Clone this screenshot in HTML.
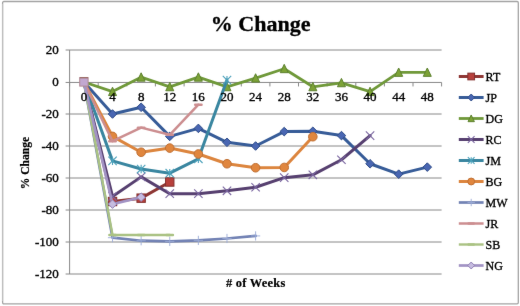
<!DOCTYPE html>
<html><head><meta charset="utf-8"><title>% Change</title>
<style>
html,body{margin:0;padding:0;background:#fff;width:520px;height:306px;overflow:hidden}
svg{display:block}
text{font-family:"Liberation Serif",serif}
</style></head><body>
<svg width="520" height="306" viewBox="0 0 520 306">
<defs><filter id="bl" x="0" y="0" width="520" height="306" filterUnits="userSpaceOnUse" color-interpolation-filters="sRGB"><feConvolveMatrix order="3" kernelMatrix="0.00276 0.04704 0.00276 0.04704 0.80077 0.04704 0.00276 0.04704 0.00276" edgeMode="duplicate" preserveAlpha="true"/></filter></defs>
<rect x="0" y="0" width="520" height="306" fill="#fff"/>
<g filter="url(#bl)">
<rect x="0" y="0" width="520" height="306" fill="#fff"/>
<rect x="2.6" y="1.5" width="515.7" height="302.3" rx="1.2" ry="1.2" fill="#fff" stroke="#a4a4a4" stroke-width="1.3"/>
<path d="M2.6 4V301" stroke="#c8c8c8" stroke-width="0.8" fill="none"/>

<path d="M65.6 50.00H441.6 M65.6 82.45H441.6 M65.6 114.00H441.6 M65.6 146.00H441.6 M65.6 178.00H441.6 M65.6 210.00H441.6 M65.6 242.00H441.6 M65.6 274.00H441.6" stroke="#888888" stroke-width="1" fill="none"/>
<path d="M69.6 50.0V274.0" stroke="#888888" stroke-width="1" fill="none"/>
<path d="M69.6 82.45v4 M98.2 82.45v4 M126.8 82.45v4 M155.4 82.45v4 M184.1 82.45v4 M212.7 82.45v4 M241.3 82.45v4 M269.9 82.45v4 M298.5 82.45v4 M327.1 82.45v4 M355.8 82.45v4 M384.4 82.45v4 M413.0 82.45v4 M441.6 82.45v4" stroke="#888888" stroke-width="1" fill="none"/>
<polyline points="83.91,82.00 112.52,201.52 141.14,198.16 169.75,182.00" fill="none" stroke="#8E3634" stroke-width="3.0" stroke-linejoin="round" stroke-linecap="round"/>
<rect x="108.32" y="197.32" width="8.40" height="8.40" fill="#B8403C" stroke="#82302E" stroke-width="1"/>
<rect x="136.94" y="193.96" width="8.40" height="8.40" fill="#B8403C" stroke="#82302E" stroke-width="1"/>
<rect x="165.55" y="177.80" width="8.40" height="8.40" fill="#B8403C" stroke="#82302E" stroke-width="1"/>
<polyline points="83.91,82.00 112.52,114.00 141.14,107.28 169.75,136.40 198.37,128.40 226.98,142.32 255.60,146.00 284.22,131.60 312.83,131.28 341.45,135.60 370.06,163.76 398.68,174.16 427.29,167.12" fill="none" stroke="#375C98" stroke-width="3.0" stroke-linejoin="round" stroke-linecap="round"/>
<path d="M112.52 109.70L116.82 114.00L112.52 118.30L108.22 114.00Z" fill="#4966B2" stroke="#2E4C88" stroke-width="1"/>
<path d="M141.14 102.98L145.44 107.28L141.14 111.58L136.84 107.28Z" fill="#4966B2" stroke="#2E4C88" stroke-width="1"/>
<path d="M169.75 132.10L174.05 136.40L169.75 140.70L165.45 136.40Z" fill="#4966B2" stroke="#2E4C88" stroke-width="1"/>
<path d="M198.37 124.10L202.67 128.40L198.37 132.70L194.07 128.40Z" fill="#4966B2" stroke="#2E4C88" stroke-width="1"/>
<path d="M226.98 138.02L231.28 142.32L226.98 146.62L222.68 142.32Z" fill="#4966B2" stroke="#2E4C88" stroke-width="1"/>
<path d="M255.60 141.70L259.90 146.00L255.60 150.30L251.30 146.00Z" fill="#4966B2" stroke="#2E4C88" stroke-width="1"/>
<path d="M284.22 127.30L288.52 131.60L284.22 135.90L279.92 131.60Z" fill="#4966B2" stroke="#2E4C88" stroke-width="1"/>
<path d="M312.83 126.98L317.13 131.28L312.83 135.58L308.53 131.28Z" fill="#4966B2" stroke="#2E4C88" stroke-width="1"/>
<path d="M341.45 131.30L345.75 135.60L341.45 139.90L337.15 135.60Z" fill="#4966B2" stroke="#2E4C88" stroke-width="1"/>
<path d="M370.06 159.46L374.36 163.76L370.06 168.06L365.76 163.76Z" fill="#4966B2" stroke="#2E4C88" stroke-width="1"/>
<path d="M398.68 169.86L402.98 174.16L398.68 178.46L394.38 174.16Z" fill="#4966B2" stroke="#2E4C88" stroke-width="1"/>
<path d="M427.29 162.82L431.59 167.12L427.29 171.42L422.99 167.12Z" fill="#4966B2" stroke="#2E4C88" stroke-width="1"/>
<polyline points="83.91,82.00 112.52,91.60 141.14,77.20 169.75,86.80 198.37,77.20 226.98,86.80 255.60,78.16 284.22,68.72 312.83,86.80 341.45,82.80 370.06,91.60 398.68,72.40 427.29,72.40" fill="none" stroke="#70993A" stroke-width="2.8" stroke-linejoin="round" stroke-linecap="round"/>
<path d="M112.52 87.20L116.52 95.56L108.52 95.56Z" fill="#7CA236" stroke="#5E8230" stroke-width="1"/>
<path d="M141.14 72.80L145.14 81.16L137.14 81.16Z" fill="#7CA236" stroke="#5E8230" stroke-width="1"/>
<path d="M169.75 82.40L173.75 90.76L165.75 90.76Z" fill="#7CA236" stroke="#5E8230" stroke-width="1"/>
<path d="M198.37 72.80L202.37 81.16L194.37 81.16Z" fill="#7CA236" stroke="#5E8230" stroke-width="1"/>
<path d="M226.98 82.40L230.98 90.76L222.98 90.76Z" fill="#7CA236" stroke="#5E8230" stroke-width="1"/>
<path d="M255.60 73.76L259.60 82.12L251.60 82.12Z" fill="#7CA236" stroke="#5E8230" stroke-width="1"/>
<path d="M284.22 64.32L288.22 72.68L280.22 72.68Z" fill="#7CA236" stroke="#5E8230" stroke-width="1"/>
<path d="M312.83 82.40L316.83 90.76L308.83 90.76Z" fill="#7CA236" stroke="#5E8230" stroke-width="1"/>
<path d="M341.45 78.40L345.45 86.76L337.45 86.76Z" fill="#7CA236" stroke="#5E8230" stroke-width="1"/>
<path d="M370.06 87.20L374.06 95.56L366.06 95.56Z" fill="#7CA236" stroke="#5E8230" stroke-width="1"/>
<path d="M398.68 68.00L402.68 76.36L394.68 76.36Z" fill="#7CA236" stroke="#5E8230" stroke-width="1"/>
<path d="M427.29 68.00L431.29 76.36L423.29 76.36Z" fill="#7CA236" stroke="#5E8230" stroke-width="1"/>
<polyline points="83.91,82.00 112.52,196.40 141.14,176.88 169.75,193.68 198.37,193.68 226.98,190.80 255.60,187.28 284.22,177.68 312.83,174.80 341.45,159.76 370.06,135.60" fill="none" stroke="#574070" stroke-width="3.0" stroke-linejoin="round" stroke-linecap="round"/>
<path d="M108.32 192.20L116.72 200.60M108.32 200.60L116.72 192.20" stroke="#7A66A0" stroke-width="1.1" fill="none"/>
<path d="M136.94 172.68L145.34 181.08M136.94 181.08L145.34 172.68" stroke="#7A66A0" stroke-width="1.1" fill="none"/>
<path d="M165.55 189.48L173.95 197.88M165.55 197.88L173.95 189.48" stroke="#7A66A0" stroke-width="1.1" fill="none"/>
<path d="M194.17 189.48L202.57 197.88M194.17 197.88L202.57 189.48" stroke="#7A66A0" stroke-width="1.1" fill="none"/>
<path d="M222.78 186.60L231.18 195.00M222.78 195.00L231.18 186.60" stroke="#7A66A0" stroke-width="1.1" fill="none"/>
<path d="M251.40 183.08L259.80 191.48M251.40 191.48L259.80 183.08" stroke="#7A66A0" stroke-width="1.1" fill="none"/>
<path d="M280.02 173.48L288.42 181.88M280.02 181.88L288.42 173.48" stroke="#7A66A0" stroke-width="1.1" fill="none"/>
<path d="M308.63 170.60L317.03 179.00M308.63 179.00L317.03 170.60" stroke="#7A66A0" stroke-width="1.1" fill="none"/>
<path d="M337.25 155.56L345.65 163.96M337.25 163.96L345.65 155.56" stroke="#7A66A0" stroke-width="1.1" fill="none"/>
<path d="M365.86 131.40L374.26 139.80M365.86 139.80L374.26 131.40" stroke="#7A66A0" stroke-width="1.1" fill="none"/>
<polyline points="83.91,82.00 112.52,160.88 141.14,169.04 169.75,173.20 198.37,158.80 226.98,80.08" fill="none" stroke="#3A86A0" stroke-width="3.0" stroke-linejoin="round" stroke-linecap="round"/>
<path d="M108.32 156.68L116.72 165.08M108.32 165.08L116.72 156.68M112.52 156.68L112.52 165.08" stroke="#4AA0BA" stroke-width="1.1" fill="none"/>
<path d="M136.94 164.84L145.34 173.24M136.94 173.24L145.34 164.84M141.14 164.84L141.14 173.24" stroke="#4AA0BA" stroke-width="1.1" fill="none"/>
<path d="M165.55 169.00L173.95 177.40M165.55 177.40L173.95 169.00M169.75 169.00L169.75 177.40" stroke="#4AA0BA" stroke-width="1.1" fill="none"/>
<path d="M194.17 154.60L202.57 163.00M194.17 163.00L202.57 154.60M198.37 154.60L198.37 163.00" stroke="#4AA0BA" stroke-width="1.1" fill="none"/>
<path d="M222.78 75.88L231.18 84.28M222.78 84.28L231.18 75.88M226.98 75.88L226.98 84.28" stroke="#4AA0BA" stroke-width="1.1" fill="none"/>
<polyline points="83.91,82.00 112.52,136.40 141.14,152.24 169.75,148.08 198.37,154.00 226.98,163.76 255.60,167.76 284.22,167.44 312.83,136.72" fill="none" stroke="#DC853E" stroke-width="3.0" stroke-linejoin="round" stroke-linecap="round"/>
<circle cx="112.52" cy="136.40" r="4.30" fill="#E0863E" stroke="#C07034" stroke-width="1"/>
<circle cx="141.14" cy="152.24" r="4.30" fill="#E0863E" stroke="#C07034" stroke-width="1"/>
<circle cx="169.75" cy="148.08" r="4.30" fill="#E0863E" stroke="#C07034" stroke-width="1"/>
<circle cx="198.37" cy="154.00" r="4.30" fill="#E0863E" stroke="#C07034" stroke-width="1"/>
<circle cx="226.98" cy="163.76" r="4.30" fill="#E0863E" stroke="#C07034" stroke-width="1"/>
<circle cx="255.60" cy="167.76" r="4.30" fill="#E0863E" stroke="#C07034" stroke-width="1"/>
<circle cx="284.22" cy="167.44" r="4.30" fill="#E0863E" stroke="#C07034" stroke-width="1"/>
<circle cx="312.83" cy="136.72" r="4.30" fill="#E0863E" stroke="#C07034" stroke-width="1"/>
<polyline points="83.91,82.00 112.52,237.68 141.14,240.72 169.75,241.36 198.37,240.40 226.98,238.48 255.60,235.92" fill="none" stroke="#7282B4" stroke-width="2.7" stroke-linejoin="round" stroke-linecap="round"/>
<path d="M107.92 237.68L117.12 237.68M112.52 233.08L112.52 242.28" stroke="#9AAAD6" stroke-width="0.9" fill="none"/>
<path d="M136.54 240.72L145.74 240.72M141.14 236.12L141.14 245.32" stroke="#9AAAD6" stroke-width="0.9" fill="none"/>
<path d="M165.15 241.36L174.35 241.36M169.75 236.76L169.75 245.96" stroke="#9AAAD6" stroke-width="0.9" fill="none"/>
<path d="M193.77 240.40L202.97 240.40M198.37 235.80L198.37 245.00" stroke="#9AAAD6" stroke-width="0.9" fill="none"/>
<path d="M222.38 238.48L231.58 238.48M226.98 233.88L226.98 243.08" stroke="#9AAAD6" stroke-width="0.9" fill="none"/>
<path d="M251.00 235.92L260.20 235.92M255.60 231.32L255.60 240.52" stroke="#9AAAD6" stroke-width="0.9" fill="none"/>
<polyline points="83.91,82.00 112.52,141.20 141.14,127.60 169.75,134.80 198.37,104.72" fill="none" stroke="#CC8E90" stroke-width="2.5" stroke-linejoin="round" stroke-linecap="round"/>
<path d="M109.32 141.20L115.72 141.20" stroke="#CC8E90" stroke-width="2.4" stroke-linecap="round" fill="none"/>
<path d="M137.94 127.60L144.34 127.60" stroke="#CC8E90" stroke-width="2.4" stroke-linecap="round" fill="none"/>
<path d="M166.55 134.80L172.95 134.80" stroke="#CC8E90" stroke-width="2.4" stroke-linecap="round" fill="none"/>
<path d="M195.17 104.72L201.57 104.72" stroke="#CC8E90" stroke-width="2.4" stroke-linecap="round" fill="none"/>
<polyline points="83.91,82.00 112.52,234.96 141.14,234.96 169.75,234.96" fill="none" stroke="#AAC283" stroke-width="2.4" stroke-linejoin="round" stroke-linecap="round"/>
<path d="M109.32 234.96L115.72 234.96" stroke="#AAC283" stroke-width="2.4" stroke-linecap="round" fill="none"/>
<path d="M137.94 234.96L144.34 234.96" stroke="#AAC283" stroke-width="2.4" stroke-linecap="round" fill="none"/>
<path d="M166.55 234.96L172.95 234.96" stroke="#AAC283" stroke-width="2.4" stroke-linecap="round" fill="none"/>
<polyline points="83.91,82.00 112.52,204.08 141.14,197.20" fill="none" stroke="#A293C4" stroke-width="2.7" stroke-linejoin="round" stroke-linecap="round"/>
<path d="M112.52 199.78L116.82 204.08L112.52 208.38L108.22 204.08Z" fill="#C6BCE0" stroke="#8E7EB2" stroke-width="1"/>
<path d="M141.14 192.90L145.44 197.20L141.14 201.50L136.84 197.20Z" fill="#C6BCE0" stroke="#8E7EB2" stroke-width="1"/>
<rect x="79.71" y="77.70" width="8.4" height="8.4" fill="#C2A8D0" stroke="#B08894" stroke-width="1"/>
<path d="M79.71 77.70h8.4" stroke="#9A6A62" stroke-width="1.2" fill="none"/>
<text transform="translate(58.80,54.10) scale(1.06,1)" font-size="12.3" text-anchor="end" stroke="#000" stroke-width="0.32" fill="#000">20</text>
<text transform="translate(58.80,86.10) scale(1.06,1)" font-size="12.3" text-anchor="end" stroke="#000" stroke-width="0.32" fill="#000">0</text>
<text transform="translate(58.80,118.10) scale(1.06,1)" font-size="12.3" text-anchor="end" stroke="#000" stroke-width="0.32" fill="#000">-20</text>
<text transform="translate(58.80,150.10) scale(1.06,1)" font-size="12.3" text-anchor="end" stroke="#000" stroke-width="0.32" fill="#000">-40</text>
<text transform="translate(58.80,182.10) scale(1.06,1)" font-size="12.3" text-anchor="end" stroke="#000" stroke-width="0.32" fill="#000">-60</text>
<text transform="translate(58.80,214.10) scale(1.06,1)" font-size="12.3" text-anchor="end" stroke="#000" stroke-width="0.32" fill="#000">-80</text>
<text transform="translate(58.80,246.10) scale(1.06,1)" font-size="12.3" text-anchor="end" stroke="#000" stroke-width="0.32" fill="#000">-100</text>
<text transform="translate(58.80,278.10) scale(1.06,1)" font-size="12.3" text-anchor="end" stroke="#000" stroke-width="0.32" fill="#000">-120</text>
<text transform="translate(83.91,101.20) scale(1.06,1)" font-size="12.3" text-anchor="middle" stroke="#000" stroke-width="0.32" fill="#000">0</text>
<text transform="translate(112.52,101.20) scale(1.06,1)" font-size="12.3" text-anchor="middle" stroke="#000" stroke-width="0.32" fill="#000">4</text>
<text transform="translate(141.14,101.20) scale(1.06,1)" font-size="12.3" text-anchor="middle" stroke="#000" stroke-width="0.32" fill="#000">8</text>
<text transform="translate(169.75,101.20) scale(1.06,1)" font-size="12.3" text-anchor="middle" stroke="#000" stroke-width="0.32" fill="#000">12</text>
<text transform="translate(198.37,101.20) scale(1.06,1)" font-size="12.3" text-anchor="middle" stroke="#000" stroke-width="0.32" fill="#000">16</text>
<text transform="translate(226.98,101.20) scale(1.06,1)" font-size="12.3" text-anchor="middle" stroke="#000" stroke-width="0.32" fill="#000">20</text>
<text transform="translate(255.60,101.20) scale(1.06,1)" font-size="12.3" text-anchor="middle" stroke="#000" stroke-width="0.32" fill="#000">24</text>
<text transform="translate(284.22,101.20) scale(1.06,1)" font-size="12.3" text-anchor="middle" stroke="#000" stroke-width="0.32" fill="#000">28</text>
<text transform="translate(312.83,101.20) scale(1.06,1)" font-size="12.3" text-anchor="middle" stroke="#000" stroke-width="0.32" fill="#000">32</text>
<text transform="translate(341.45,101.20) scale(1.06,1)" font-size="12.3" text-anchor="middle" stroke="#000" stroke-width="0.32" fill="#000">36</text>
<text transform="translate(370.06,101.20) scale(1.06,1)" font-size="12.3" text-anchor="middle" stroke="#000" stroke-width="0.32" fill="#000">40</text>
<text transform="translate(398.68,101.20) scale(1.06,1)" font-size="12.3" text-anchor="middle" stroke="#000" stroke-width="0.32" fill="#000">44</text>
<text transform="translate(427.29,101.20) scale(1.06,1)" font-size="12.3" text-anchor="middle" stroke="#000" stroke-width="0.32" fill="#000">48</text>
<text transform="translate(260.60,31.20) scale(1.02,1)" font-size="21.6" text-anchor="middle" font-weight="bold" stroke="#000" stroke-width="0.3" fill="#000">% Change</text>
<text x="255.8" y="287" font-size="12.4" font-weight="bold" text-anchor="middle" letter-spacing="0.25" fill="#000" stroke="#000" stroke-width="0.2"># of Weeks</text>
<text transform="translate(29,163.1) rotate(-90)" x="0" y="0" font-size="11.6" font-weight="bold" text-anchor="middle" fill="#000" stroke="#000" stroke-width="0.2">% Change</text>
<path d="M458.8 76.5H483.6" stroke="#8E3634" stroke-width="3.0" fill="none"/>
<rect x="467.84" y="73.14" width="6.72" height="6.72" fill="#B8403C" stroke="#82302E" stroke-width="1"/>
<text x="485.6" y="80.5" font-size="12" fill="#000" stroke="#000" stroke-width="0.32">RT</text>
<path d="M458.8 97.5H483.6" stroke="#375C98" stroke-width="3.0" fill="none"/>
<path d="M471.20 94.06L474.64 97.50L471.20 100.94L467.76 97.50Z" fill="#4966B2" stroke="#2E4C88" stroke-width="1"/>
<text x="485.6" y="101.5" font-size="12" fill="#000" stroke="#000" stroke-width="0.32">JP</text>
<path d="M458.8 118.5H483.6" stroke="#70993A" stroke-width="2.8" fill="none"/>
<path d="M471.20 114.98L474.40 121.67L468.00 121.67Z" fill="#7CA236" stroke="#5E8230" stroke-width="1"/>
<text x="485.6" y="122.5" font-size="12" fill="#000" stroke="#000" stroke-width="0.32">DG</text>
<path d="M458.8 139.5H483.6" stroke="#574070" stroke-width="3.0" fill="none"/>
<path d="M467.84 136.14L474.56 142.86M467.84 142.86L474.56 136.14" stroke="#7A66A0" stroke-width="1.1" fill="none"/>
<text x="485.6" y="143.5" font-size="12" fill="#000" stroke="#000" stroke-width="0.32">RC</text>
<path d="M458.8 160.5H483.6" stroke="#3A86A0" stroke-width="3.0" fill="none"/>
<path d="M467.84 157.14L474.56 163.86M467.84 163.86L474.56 157.14M471.20 157.14L471.20 163.86" stroke="#4AA0BA" stroke-width="1.1" fill="none"/>
<text x="485.6" y="164.5" font-size="12" fill="#000" stroke="#000" stroke-width="0.32">JM</text>
<path d="M458.8 181.5H483.6" stroke="#DC853E" stroke-width="3.0" fill="none"/>
<circle cx="471.20" cy="181.50" r="3.44" fill="#E0863E" stroke="#C07034" stroke-width="1"/>
<text x="485.6" y="185.5" font-size="12" fill="#000" stroke="#000" stroke-width="0.32">BG</text>
<path d="M458.8 202.5H483.6" stroke="#7282B4" stroke-width="2.7" fill="none"/>
<path d="M467.52 202.50L474.88 202.50M471.20 198.82L471.20 206.18" stroke="#9AAAD6" stroke-width="0.9" fill="none"/>
<text x="485.6" y="206.5" font-size="12" fill="#000" stroke="#000" stroke-width="0.32">MW</text>
<path d="M458.8 223.5H483.6" stroke="#CC8E90" stroke-width="2.5" fill="none"/>
<path d="M468.64 223.50L473.76 223.50" stroke="#CC8E90" stroke-width="2.4" stroke-linecap="round" fill="none"/>
<text x="485.6" y="227.5" font-size="12" fill="#000" stroke="#000" stroke-width="0.32">JR</text>
<path d="M458.8 244.5H483.6" stroke="#AAC283" stroke-width="2.4" fill="none"/>
<path d="M468.64 244.50L473.76 244.50" stroke="#AAC283" stroke-width="2.4" stroke-linecap="round" fill="none"/>
<text x="485.6" y="248.5" font-size="12" fill="#000" stroke="#000" stroke-width="0.32">SB</text>
<path d="M458.8 265.5H483.6" stroke="#A293C4" stroke-width="2.7" fill="none"/>
<path d="M471.20 262.06L474.64 265.50L471.20 268.94L467.76 265.50Z" fill="#C6BCE0" stroke="#8E7EB2" stroke-width="1"/>
<text x="485.6" y="269.5" font-size="12" fill="#000" stroke="#000" stroke-width="0.32">NG</text>
</g></svg></body></html>
